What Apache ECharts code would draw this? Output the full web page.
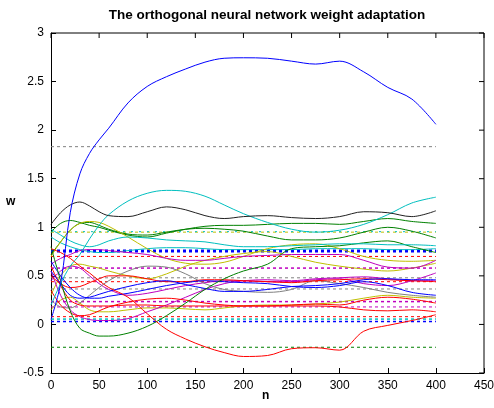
<!DOCTYPE html>
<html><head><meta charset="utf-8">
<script src="https://cdn.jsdelivr.net/npm/echarts@6/dist/echarts.min.js"></script>
<style>html,body{margin:0;padding:0;background:#fff}#c{width:494px;height:408px}</style>
</head><body><div id="c"></div>
<script>
// iteration axis (n)
const nGrid = [0,10,20,30,40,50,60,80,100,120,140,160,180,200,225,250,275,300,325,350,375,400];
// adapted weights (solid lines)
const wBlueBig  = [0.05,0.42,1.15,1.55,1.76,1.90,2.02,2.28,2.45,2.55,2.63,2.70,2.74,2.745,2.74,2.71,2.68,2.71,2.60,2.44,2.32,2.06];
const wBlack    = [1.03,1.15,1.23,1.26,1.22,1.16,1.12,1.11,1.16,1.21,1.18,1.12,1.09,1.11,1.12,1.10,1.09,1.11,1.16,1.15,1.11,1.17];
const wCyanTop  = [0.20,0.42,0.60,0.72,0.88,1.02,1.13,1.27,1.35,1.38,1.37,1.32,1.23,1.14,1.05,0.98,0.95,0.97,1.03,1.13,1.25,1.31];
const wCyan2    = [0.98,0.92,0.86,0.82,0.80,0.82,0.86,0.90,0.89,0.87,0.86,0.85,0.82,0.80,0.80,0.81,0.82,0.83,0.83,0.82,0.82,0.81];
const wCyan3    = [0.90,0.84,0.80,0.77,0.75,0.74,0.74,0.76,0.78,0.79,0.79,0.78,0.77,0.77,0.77,0.77,0.78,0.78,0.78,0.77,0.77,0.78];
const wGreenA   = [0.95,1.04,1.07,1.05,1.02,1.00,0.97,0.92,0.90,0.94,0.98,1.01,1.02,1.02,1.03,1.04,1.04,1.03,1.06,1.09,1.06,1.04];
const wGreenB   = [0.72,0.85,0.97,1.04,1.05,1.02,0.98,0.93,0.92,0.95,0.98,0.99,0.98,0.96,0.91,0.87,0.87,0.89,0.95,1.00,0.96,0.89];
const wGreenC   = [0.80,0.45,0.14,-0.04,-0.09,-0.12,-0.12,-0.09,-0.02,0.09,0.22,0.36,0.47,0.55,0.62,0.78,0.80,0.81,0.84,0.86,0.80,0.74];
const wRedD     = [0.78,0.74,0.68,0.60,0.53,0.45,0.38,0.28,0.11,-0.05,-0.15,-0.23,-0.29,-0.33,-0.32,-0.25,-0.24,-0.265,-0.07,-0.01,0.04,0.10];
const wRedE     = [0.35,0.20,0.12,0.09,0.10,0.14,0.18,0.23,0.26,0.27,0.25,0.22,0.20,0.19,0.19,0.20,0.21,0.20,0.25,0.28,0.26,0.22];
const wRedF     = [0.50,0.42,0.38,0.39,0.43,0.47,0.50,0.50,0.47,0.44,0.44,0.46,0.46,0.45,0.44,0.43,0.45,0.46,0.47,0.46,0.45,0.44];
const wRedG     = [0.60,0.40,0.25,0.20,0.19,0.19,0.19,0.20,0.20,0.19,0.19,0.19,0.19,0.19,0.19,0.19,0.19,0.18,0.15,0.14,0.15,0.13];
const wBlueB    = [0.65,0.50,0.38,0.30,0.27,0.27,0.29,0.32,0.36,0.40,0.43,0.45,0.44,0.43,0.42,0.39,0.38,0.40,0.44,0.40,0.33,0.30];
const wBlueC    = [0.55,0.42,0.30,0.27,0.28,0.31,0.34,0.39,0.43,0.45,0.41,0.37,0.34,0.34,0.36,0.39,0.40,0.42,0.46,0.47,0.46,0.46];
const wGray     = [0.25,0.18,0.17,0.22,0.30,0.38,0.45,0.55,0.60,0.59,0.52,0.42,0.36,0.34,0.33,0.36,0.45,0.42,0.38,0.33,0.30,0.28];
const wMagA     = [0.55,0.30,0.15,0.08,0.05,0.04,0.04,0.06,0.13,0.20,0.28,0.36,0.42,0.45,0.46,0.45,0.47,0.48,0.49,0.47,0.45,0.45];
const wMagB     = [0.62,0.68,0.72,0.76,0.77,0.77,0.76,0.74,0.72,0.68,0.66,0.66,0.68,0.70,0.71,0.72,0.72,0.72,0.66,0.59,0.58,0.66];
const wMagC     = [0.45,0.55,0.60,0.58,0.50,0.42,0.36,0.30,0.32,0.36,0.40,0.43,0.45,0.45,0.44,0.44,0.46,0.47,0.42,0.40,0.45,0.53];
const wYelA     = [0.70,0.85,0.97,1.04,1.06,1.05,1.01,0.90,0.78,0.68,0.63,0.62,0.64,0.70,0.78,0.82,0.83,0.78,0.70,0.66,0.65,0.66];
const wYelB     = [0.30,0.50,0.60,0.62,0.60,0.58,0.55,0.50,0.47,0.52,0.60,0.66,0.70,0.73,0.75,0.70,0.64,0.60,0.57,0.55,0.58,0.63];
const wYelC     = [0.15,0.25,0.28,0.22,0.15,0.13,0.13,0.15,0.17,0.17,0.16,0.15,0.17,0.19,0.20,0.20,0.21,0.23,0.27,0.30,0.28,0.27];
// optimal (target) weights: dashed horizontal lines
const targetSpan = [0, 400];
const targetValues = [1.83, 0.95, 0.955, 0.755, 0.70, 0.58, 0.48, 0.44, 0.365, 0.235, 0.18, 0.08, 0.055, 0.03, -0.235];
// tick labels
const xTicks = [0,50,100,150,200,250,300,350,400,450];
const yTicks = [-0.5,0,0.5,1,1.5,2,2.5,3];

const C = {b:'#0000ff', g:'#008000', r:'#ff0000', c:'#00bfbf', m:'#bf00bf', y:'#bfbf00', k:'#202020', gr:'#808080'};
const solid = [
  [wCyan3,C.c],[wGreenB,C.g],[wGreenA,C.g],[wYelA,C.y],[wYelB,C.y],[wYelC,C.y],
  [wMagB,C.m],[wMagC,C.m],[wMagA,C.m],[wGray,C.gr],[wRedE,C.r],[wRedF,C.r],[wRedG,C.r],
  [wBlueB,C.b],[wBlueC,C.b],[wGreenC,C.g],[wCyan2,C.c],[wCyanTop,C.c],[wBlack,C.k],[wRedD,C.r],[wBlueBig,C.b]
];
const targetStyle = [
  [C.gr,1,[3,3]],[C.y,1,[3,3]],[C.c,1,[2,6]],[C.b,3,[3,3]],[C.r,1,[3,3]],[C.m,1.5,[3,3]],[C.gr,1,[3,3]],
  [C.r,1,[3,3]],[C.gr,1,[3,3]],[C.m,1.5,[3,3]],[C.m,1,[3,3]],[C.r,1,[3,3]],[C.c,1.5,[3,3]],[C.b,1.5,[3,3]],[C.g,1,[3,3]]
];

const series = [];
targetValues.forEach((v,i)=>{
  const s = targetStyle[i];
  series.push({type:'line', silent:true, symbol:'none', animation:false,
    data: targetSpan.map(x=>[x,v]),
    lineStyle:{color:s[0], width:s[1], type:s[2]}});
});
solid.forEach(([arr,col])=>{
  series.push({type:'line', silent:true, symbol:'none', smooth:0.35, animation:false,
    data: nGrid.map((x,i)=>[x,arr[i]]),
    lineStyle:{color:col, width:1}});
});

const font = 'Liberation Sans, Arial, sans-serif';
const xMin = xTicks[0], xMax = xTicks[xTicks.length-1], yMin = yTicks[0], yMax = yTicks[yTicks.length-1];
const chart = echarts.init(document.getElementById('c'));
chart.setOption({
  backgroundColor:'#fff',
  animation:false,
  grid:{left:51, right:10, top:33, bottom:35, outerBoundsMode:'none'},
  title:{text:'The orthogonal neural network weight adaptation', left:262, top:3, textAlign:'center',
    textStyle:{fontFamily:font, fontSize:13.5, fontWeight:'bold', color:'#000'}},
  xAxis:{type:'value', min:xMin, max:xMax, interval:50,
    axisLine:{show:true, onZero:false, lineStyle:{color:'#000'}},
    axisTick:{show:true, inside:true, length:5, lineStyle:{color:'#000'}},
    splitLine:{show:false},
    axisLabel:{fontFamily:font, fontSize:12, color:'#000', margin:7}},
  yAxis:{type:'value', min:yMin, max:yMax, interval:0.5,
    axisLine:{show:true, onZero:false, lineStyle:{color:'#000'}},
    axisTick:{show:true, inside:true, length:5, lineStyle:{color:'#000'}},
    splitLine:{show:false},
    axisLabel:{fontFamily:font, fontSize:12, color:'#000', margin:7}},
  graphic:[
    {type:'text', left:262, top:390, style:{text:'n', font:'bold 12px '+font, fill:'#000'}},
    {type:'text', left:6, top:196, style:{text:'w', font:'bold 12px '+font, fill:'#000'}}
  ],
  series: series
});

// MATLAB-style box: top/right frame edges and mirrored inward ticks, drawn as line series.
// Tick length (5 px) converted to data units through the axis scales.
const pTR = chart.convertToPixel({xAxisIndex:0, yAxisIndex:0}, [xMax, yMax]);
const inner = chart.convertFromPixel({xAxisIndex:0, yAxisIndex:0}, [pTR[0]-5, pTR[1]+5]);
const frameData = [[xMin, yMax], [xMax, yMax], [xMax, yMin]];
const topTickData = [];
xTicks.forEach(t=>{ topTickData.push([t, yMax], [t, inner[1]], '-'); });
const rightTickData = [];
yTicks.forEach(t=>{ rightTickData.push([xMax, t], [inner[0], t], '-'); });
const boxStyle = {type:'line', silent:true, symbol:'none', animation:false, clip:false, connectNulls:false,
  lineStyle:{color:'#000', width:1, type:'solid'}, z:5};
chart.setOption({series: series.concat([
  Object.assign({data: frameData}, boxStyle),
  Object.assign({data: topTickData}, boxStyle),
  Object.assign({data: rightTickData}, boxStyle)
])});
</script></body></html>
